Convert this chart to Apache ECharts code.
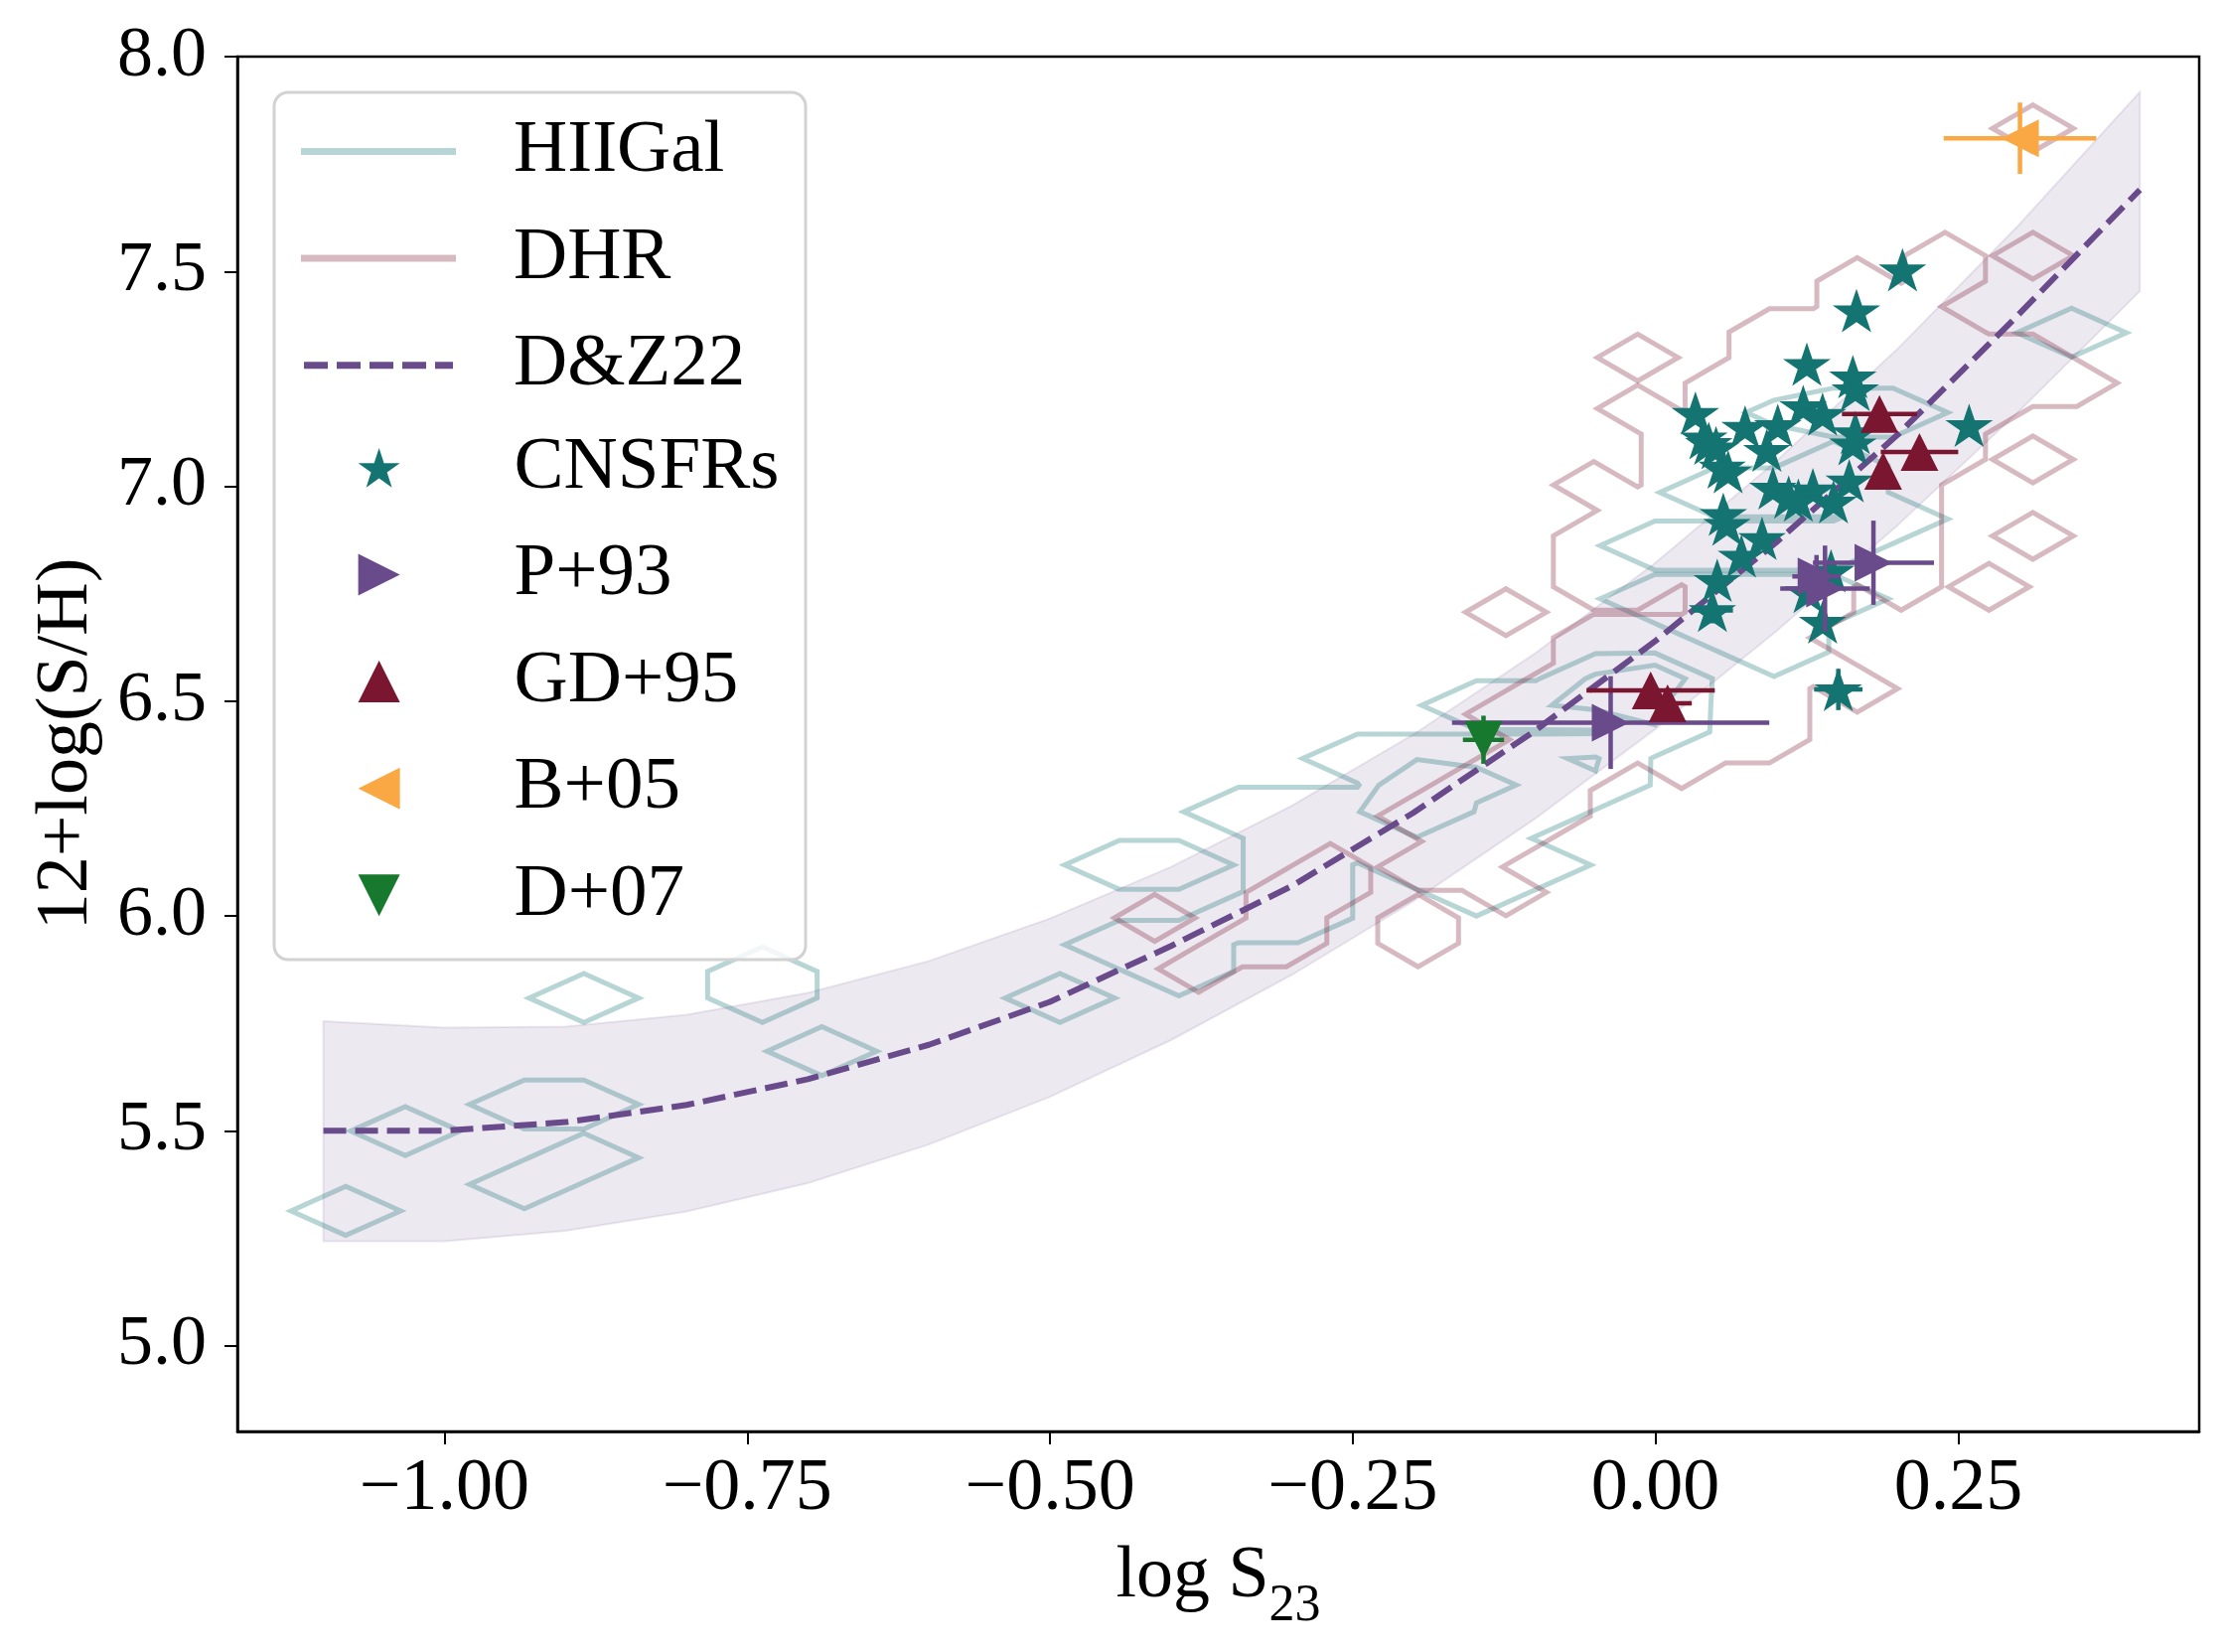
<!DOCTYPE html>
<html lang="en">
<head>
<meta charset="UTF-8">
<title>12+log(S/H) vs log S23</title>
<script src="https://cdn.jsdelivr.net/npm/echarts@6.0.0/dist/echarts.min.js"></script>
<style>html,body{margin:0;padding:0;background:#fff;}</style>
</head>
<body>
<div id="chart" style="width:2244px;height:1663px;"></div>
<script>
// D&Z22 calibration and its uncertainty band
var fitX   = [-1.1, -1.0, -0.9, -0.8, -0.7, -0.6, -0.5, -0.4, -0.3, -0.2, -0.1, 0.0, 0.1, 0.2, 0.3, 0.4];
var fitY   = [5.50, 5.50, 5.52, 5.56, 5.62, 5.70, 5.80, 5.93, 6.07, 6.24, 6.43, 6.64, 6.87, 7.12, 7.40, 7.69];
var fitUp  = [5.755, 5.740, 5.742, 5.770, 5.821, 5.895, 5.994, 6.114, 6.257, 6.422, 6.610, 6.822, 7.059, 7.320, 7.608, 7.918];
var fitLow = [5.243, 5.243, 5.267, 5.312, 5.378, 5.468, 5.579, 5.711, 5.863, 6.034, 6.225, 6.435, 6.663, 6.909, 7.174, 7.454];

// CNSFRs
var cnsfrX = [0.204, 0.166, 0.125, 0.163, 0.165, 0.033, 0.259, 0.122, 0.138, 0.074, 0.101, 0.040, 0.050, 0.165, 0.163, 0.092, 0.060, 0.097,
              0.130, 0.118, 0.147, 0.160, 0.056, 0.059, 0.088, 0.071, 0.051, 0.047, 0.145, 0.126, 0.138, 0.151, 0.044, 0.110, 0.055];
var cnsfrY = [7.504, 7.409, 7.284, 7.255, 7.225, 7.170, 7.142, 7.186, 7.168, 7.138, 7.142, 7.113, 7.090, 7.125, 7.099, 7.084, 7.034, 6.996,
              6.992, 6.968, 6.964, 7.013, 6.935, 6.912, 6.879, 6.838, 6.781, 6.711, 6.803, 6.755, 6.684, 6.527, 7.100, 6.975, 7.045];
var cnsfrXerr = [0, 0, 0, 0, 0, 0, 0, 0, 0, 0, 0, 0, 0, 0, 0, 0, 0, 0, 0, 0, 0, 0, 0, 0, 0, 0, 0, 0.017, 0, 0, 0, 0.020, 0, 0, 0];
var cnsfrYerr = [0, 0, 0, 0, 0, 0, 0, 0, 0, 0, 0, 0, 0, 0, 0, 0, 0, 0, 0, 0, 0, 0, 0, 0, 0, 0, 0, 0.030, 0, 0, 0, 0.048, 0, 0, 0];

// P+93
var p93X = [0.180, 0.133, 0.140, -0.037];
var p93Y = [6.822, 6.790, 6.762, 6.450];
var p93Xerr = [0.050, 0.020, 0.037, 0.131];
var p93Yerr = [0.098, 0.050, 0.100, 0.108];

// GD+95
var gd95X = [0.185, 0.218, 0.188, -0.004, 0.010];
var gd95Y = [7.168, 7.080, 7.036, 6.525, 6.495];
var gd95Xerr = [0.031, 0.032, 0, 0.053, 0.020];
var gd95Yerr = [0, 0, 0, 0.030, 0.020];

// B+05
var b05X = [0.301], b05Y = [7.810], b05Xerr = [0.063], b05Yerr = [0.083];

// D+07
var d07X = [-0.142], d07Y = [6.410], d07Xerr = [0.017], d07Yerr = [0.056];

// HIIGal 2D histogram: bin centres x0 + i*dx, y0 + j*dy ; runs are [row j, first i, last i, count]
var hiiX0 = -0.4918, hiiDX = 0.04914, hiiY0 = 5.8089, hiiDY = 0.06194;
var hiiRuns = [
  [-8, -12, -12, 1], [-7, -9, -9, 1], [-6, -8, -8, 1], [-5, -11, -11, 1], [-4, -9, -8, 1], [-2, -4, -4, 1],
  [0, -8, -8, 1], [0, -5, -5, 1], [0, 0, 0, 1],
  [1, -5, -5, 1], [1, 2, 2, 1],
  [2, 1, 2, 1],
  [3, 3, 4, 1],
  [4, 4, 4, 1], [4, 7, 7, 1],
  [5, 1, 2, 1], [5, 4, 4, 1], [5, 6, 8, 1],
  [6, 4, 7, 1],
  [7, 3, 5, 1], [7, 6, 6, 3], [7, 7, 8, 1],
  [8, 6, 6, 3], [8, 7, 7, 1.24], [8, 8, 9, 1],
  [9, 5, 8, 1], [9, 9, 9, 1.15],
  [10, 10, 10, 1],
  [11, 7, 8, 1], [11, 9, 10, 1.3],
  [12, 9, 9, 1.3], [12, 10, 10, 2.2],
  [13, 12, 12, 1], [14, 11, 12, 1], [15, 10, 13, 1],
  [17, 10, 13, 1], [18, 14, 14, 1], [19, 11, 13, 1], [20, 13, 13, 1],
  [22, 12, 12, 0.15], [22, 13, 14, 1],
  [25, 17, 17, 1]
];
var hiiLevels = [0.08, 1.08];

// DHR 2D histogram
var dhrX0 = -0.41354, dhrDX = 0.03626, dhrY0 = 5.9954, dhrDY = 0.05928;
var dhrRuns = [
  [-2, 1, 1, 1],
  [-1, 2, 3, 1], [-1, 6, 6, 1],
  [0, 0, 0, 1], [0, 3, 3, 1], [0, 6, 6, 1],
  [1, 3, 4, 1], [1, 8, 8, 1],
  [2, 4, 4, 1], [2, 6, 7, 1],
  [3, 7, 8, 1],
  [4, 6, 9, 1],
  [5, 7, 9, 1],
  [6, 8, 10, 1], [6, 12, 12, 1],
  [7, 9, 14, 1],
  [8, 8, 14, 1],
  [9, 9, 14, 1], [9, 16, 16, 1],
  [10, 10, 15, 1],
  [11, 10, 14, 1],
  [12, 8, 8, 1], [12, 13, 15, 1],
  [13, 10, 11, 1], [13, 13, 15, 1], [13, 17, 17, 1], [13, 19, 19, 1],
  [14, 10, 17, 1],
  [15, 10, 17, 1], [15, 20, 20, 1],
  [16, 11, 17, 1],
  [17, 10, 10, 1], [17, 12, 17, 1],
  [18, 12, 18, 1], [18, 20, 20, 1],
  [19, 12, 18, 1],
  [20, 11, 11, 1], [20, 13, 19, 1],
  [21, 13, 21, 1],
  [22, 11, 11, 1], [22, 14, 20, 1],
  [23, 14, 18, 1],
  [24, 16, 17, 1],
  [25, 16, 16, 1], [25, 18, 18, 1],
  [26, 18, 18, 1], [26, 20, 20, 1],
  [31, 20, 20, 1]
];
var dhrLevels = [0.08];

var xTicks = [-1.0, -0.75, -0.5, -0.25, 0.0, 0.25];
var yTicks = [5.0, 5.5, 6.0, 6.5, 7.0, 7.5, 8.0];

var FONT = "'Liberation Serif', 'DejaVu Serif', serif";
var HII_COLOR = 'rgba(19,115,115,0.3)';
var DHR_COLOR = 'rgba(122,26,51,0.3)';
var PURPLE = '#694a8a';

function expandRuns(runs) {
  var cells = [];
  runs.forEach(function (r) {
    for (var c = r[1]; c <= r[2]; c++) cells.push([c, r[0], r[3]]);
  });
  return cells;
}

// marching squares on the histogram, chained into closed loops (data coordinates)
function traceLoops(cells, x0, dx, y0, dy, levels) {
  var i0 = Infinity, i1 = -Infinity, j0 = Infinity, j1 = -Infinity;
  cells.forEach(function (c) {
    i0 = Math.min(i0, c[0]); i1 = Math.max(i1, c[0]);
    j0 = Math.min(j0, c[1]); j1 = Math.max(j1, c[1]);
  });
  i0 -= 1; j0 -= 1; i1 += 1; j1 += 1;
  var W = i1 - i0 + 1, H = j1 - j0 + 1;
  var g = new Float64Array(W * H);
  cells.forEach(function (c) { g[(c[1] - j0) * W + (c[0] - i0)] = c[2]; });
  function val(i, j) { return g[j * W + i]; }
  var loops = [];
  levels.forEach(function (L) {
    var pts = {}, segs = [], byKey = {};
    function cross(key, ia, ja, ib, jb) {
      if (!pts[key]) {
        var va = val(ia, ja), vb = val(ib, jb), t = (L - va) / (vb - va);
        pts[key] = [x0 + dx * (i0 + ia + (ib - ia) * t), y0 + dy * (j0 + ja + (jb - ja) * t)];
      }
      return key;
    }
    function seg(a, b) {
      var k = segs.length;
      segs.push([a, b]);
      (byKey[a] = byKey[a] || []).push(k);
      (byKey[b] = byKey[b] || []).push(k);
    }
    for (var j = 0; j < H - 1; j++) {
      for (var i = 0; i < W - 1; i++) {
        var a = val(i, j) > L, b = val(i + 1, j) > L, c = val(i + 1, j + 1) > L, d = val(i, j + 1) > L;
        var B = 'h' + i + ',' + j, R = 'v' + (i + 1) + ',' + j, T = 'h' + i + ',' + (j + 1), Lk = 'v' + i + ',' + j;
        var e = [];
        if (a !== b) e.push(cross(B, i, j, i + 1, j));
        if (b !== c) e.push(cross(R, i + 1, j, i + 1, j + 1));
        if (d !== c) e.push(cross(T, i, j + 1, i + 1, j + 1));
        if (a !== d) e.push(cross(Lk, i, j, i, j + 1));
        if (e.length === 2) {
          seg(e[0], e[1]);
        } else if (e.length === 4) {
          var mid = (val(i, j) + val(i + 1, j) + val(i + 1, j + 1) + val(i, j + 1)) / 4 > L;
          if (a === mid) { seg(B, R); seg(T, Lk); }
          else { seg(B, Lk); seg(R, T); }
        }
      }
    }
    var used = [];
    for (var s = 0; s < segs.length; s++) {
      if (used[s]) continue;
      used[s] = true;
      var start = segs[s][0], cur = segs[s][1], loop = [pts[start], pts[cur]];
      while (cur !== start) {
        var nxt = -1;
        byKey[cur].forEach(function (k) { if (!used[k]) nxt = k; });
        if (nxt < 0) break;
        used[nxt] = true;
        cur = segs[nxt][0] === cur ? segs[nxt][1] : segs[nxt][0];
        if (cur !== start) loop.push(pts[cur]);
      }
      loops.push(loop);
    }
  });
  return loops;
}

function contourSeries(name, loops, color) {
  return {
    name: name,
    type: 'custom',
    coordinateSystem: 'cartesian2d',
    data: loops.map(function (lp) { return lp[0]; }),
    encode: { x: 0, y: 1 },
    clip: true,
    silent: true,
    z: 2,
    itemStyle: { color: color },
    renderItem: function (params, api) {
      var lp = loops[params.dataIndex];
      return {
        type: 'polygon',
        shape: { points: lp.map(function (p) { return api.coord(p); }) },
        style: { fill: 'none', stroke: color, lineWidth: 5, lineJoin: 'miter' }
      };
    }
  };
}

function errorBars(xs, ys, xe, ye, color, z) {
  return {
    type: 'custom',
    coordinateSystem: 'cartesian2d',
    silent: true,
    z: z,
    data: xs.map(function (x, i) { return [x, ys[i], xe[i], ye[i]]; }),
    encode: { x: 0, y: 1 },
    renderItem: function (params, api) {
      var x = api.value(0), y = api.value(1), ex = api.value(2), ey = api.value(3);
      var kids = [];
      if (ex > 0) {
        var a = api.coord([x - ex, y]), b = api.coord([x + ex, y]);
        kids.push({ type: 'line', shape: { x1: a[0], y1: a[1], x2: b[0], y2: b[1] }, style: { stroke: color, lineWidth: 4.5 } });
      }
      if (ey > 0) {
        var c = api.coord([x, y - ey]), d = api.coord([x, y + ey]);
        kids.push({ type: 'line', shape: { x1: c[0], y1: c[1], x2: d[0], y2: d[1] }, style: { stroke: color, lineWidth: 4.5 } });
      }
      return { type: 'group', children: kids };
    }
  };
}

function pairs(xs, ys) { return xs.map(function (x, i) { return [x, ys[i]]; }); }

var starPath = 'path://' + (function () {
  var d = '';
  for (var k = 0; k < 10; k++) {
    var r = k % 2 ? 0.382 : 1, a = Math.PI / 2 + k * Math.PI / 5;
    d += (k ? 'L' : 'M') + (r * Math.cos(a)).toFixed(4) + ',' + (-r * Math.sin(a)).toFixed(4);
  }
  return d + 'Z';
})();
var triUp = 'path://M0,-1L1,1L-1,1Z';
var triRight = 'path://M-1,-1L1,0L-1,1Z';
var triLeft = 'path://M1,-1L-1,0L1,1Z';
var triDown = 'path://M-1,-1L1,-1L0,1Z';
// legend handle for the dashed calibration line
var dashIcon = 'path://M0,0h24v7h-24zM33,0h24v7h-24zM66,0h24v7h-24zM99,0h24v7h-24zM132,0h18v7h-18z';

var hiiLoops = traceLoops(expandRuns(hiiRuns), hiiX0, hiiDX, hiiY0, hiiDY, hiiLevels);
var dhrLoops = traceLoops(expandRuns(dhrRuns), dhrX0, dhrDX, dhrY0, dhrDY, dhrLevels);

var chart = echarts.init(document.getElementById('chart'));

var option = {
  backgroundColor: '#ffffff',
  animation: false,
  textStyle: { fontFamily: FONT },
  grid: { left: 239, top: 57, width: 1975, height: 1384, show: true, borderColor: '#000', borderWidth: 2.5 },
  xAxis: {
    type: 'value',
    min: -1.171,
    max: 0.449,
    name: '{base|log S}{sub|23}',
    nameLocation: 'middle',
    nameGap: 110,
    nameTextStyle: {
      color: '#000',
      rich: {
        base: { fontFamily: FONT, fontSize: 74, verticalAlign: 'top', color: '#000' },
        sub: { fontFamily: FONT, fontSize: 52, padding: [40, 0, 0, 0], verticalAlign: 'top', color: '#000' }
      }
    },
    axisLine: { show: true, onZero: false, lineStyle: { color: '#000', width: 2.5 } },
    axisTick: { show: true, length: 13, lineStyle: { color: '#000', width: 2 }, customValues: xTicks },
    axisLabel: {
      customValues: xTicks,
      margin: 22,
      color: '#000',
      fontFamily: FONT,
      fontSize: 74,
      formatter: function (v) { return (v < 0 ? '\u2212' : '') + Math.abs(v).toFixed(2); }
    },
    splitLine: { show: false }
  },
  yAxis: {
    type: 'value',
    min: 4.8,
    max: 8.0,
    name: '12+log(S/H)',
    nameLocation: 'middle',
    nameGap: 134,
    nameTextStyle: { color: '#000', fontFamily: FONT, fontSize: 74 },
    axisLine: { show: true, onZero: false, lineStyle: { color: '#000', width: 2.5 } },
    axisTick: { show: true, length: 13, lineStyle: { color: '#000', width: 2 }, customValues: yTicks },
    axisLabel: {
      customValues: yTicks,
      margin: 31,
      color: '#000',
      fontFamily: FONT,
      fontSize: 72,
      formatter: function (v) { return v.toFixed(1); }
    },
    splitLine: { show: false }
  },
  graphic: [{
    type: 'rect',
    z: 15,
    shape: { x: 276, y: 93, width: 535, height: 873, r: 14 },
    style: { fill: 'rgba(255,255,255,0.8)', stroke: '#d2d2d2', lineWidth: 3 }
  }],
  legend: [{
    z: 20,
    orient: 'vertical',
    left: 303,
    top: 115,
    padding: 0,
    itemWidth: 156,
    itemHeight: 7,
    itemGap: 32.6,
    selectedMode: false,
    textStyle: { fontFamily: FONT, fontSize: 75, lineHeight: 74, color: '#000', padding: [0, 0, 0, 53] },
    data: [
      { name: 'HIIGal', icon: 'rect', itemStyle: { color: HII_COLOR } },
      { name: 'DHR', icon: 'rect', itemStyle: { color: DHR_COLOR } },
      { name: 'D&Z22', icon: dashIcon, itemStyle: { color: PURPLE } }
    ]
  }, {
    z: 20,
    orient: 'vertical',
    left: 360.6,
    top: 433.4,
    padding: 0,
    itemWidth: 42,
    itemHeight: 42,
    itemGap: 32.6,
    selectedMode: false,
    textStyle: { fontFamily: FONT, fontSize: 75, lineHeight: 74, color: '#000', padding: [0, 0, 0, 110] },
    data: ['CNSFRs', 'P+93', 'GD+95', 'B+05', 'D+07']
  }],
  series: [
    // shaded band of the calibration
    {
      type: 'custom',
      coordinateSystem: 'cartesian2d',
      silent: true,
      z: 1,
      clip: true,
      data: [[fitX[0], fitY[0]]],
      encode: { x: 0, y: 1 },
      renderItem: function (params, api) {
        var pts = [];
        for (var i = 0; i < fitX.length; i++) pts.push(api.coord([fitX[i], fitUp[i]]));
        for (var k = fitX.length - 1; k >= 0; k--) pts.push(api.coord([fitX[k], fitLow[k]]));
        return {
          type: 'polygon',
          shape: { points: pts },
          style: { fill: 'rgba(106,76,138,0.12)', stroke: 'rgba(106,76,138,0.13)', lineWidth: 2 }
        };
      }
    },
    contourSeries('HIIGal', hiiLoops, HII_COLOR),
    contourSeries('DHR', dhrLoops, DHR_COLOR),
    {
      name: 'D&Z22', type: 'line', z: 3, symbol: 'none', smooth: false,
      data: pairs(fitX, fitY),
      itemStyle: { color: PURPLE },
      lineStyle: { color: PURPLE, width: 6, type: [23, 9] }
    },
    errorBars(cnsfrX, cnsfrY, cnsfrXerr, cnsfrYerr, '#137471', 4),
    {
      name: 'CNSFRs', type: 'scatter', z: 5, symbol: starPath, symbolSize: [48, 46], symbolKeepAspect: true,
      itemStyle: { color: '#137471', opacity: 1 },
      data: pairs(cnsfrX, cnsfrY)
    },
    errorBars(p93X, p93Y, p93Xerr, p93Yerr, PURPLE, 6),
    {
      name: 'P+93', type: 'scatter', z: 6, symbol: triRight, symbolSize: 38,
      itemStyle: { color: PURPLE, opacity: 1 },
      data: pairs(p93X, p93Y)
    },
    errorBars(gd95X, gd95Y, gd95Xerr, gd95Yerr, '#7a1630', 7),
    {
      name: 'GD+95', type: 'scatter', z: 7, symbol: triUp, symbolSize: 38,
      itemStyle: { color: '#7a1630', opacity: 1 },
      data: pairs(gd95X, gd95Y)
    },
    errorBars(b05X, b05Y, b05Xerr, b05Yerr, '#f9a843', 8),
    {
      name: 'B+05', type: 'scatter', z: 8, symbol: triLeft, symbolSize: 38,
      itemStyle: { color: '#f9a843', opacity: 1 },
      data: pairs(b05X, b05Y)
    },
    errorBars(d07X, d07Y, d07Xerr, d07Yerr, '#17792d', 9),
    {
      name: 'D+07', type: 'scatter', z: 9, symbol: triDown, symbolSize: 38,
      itemStyle: { color: '#17792d', opacity: 1 },
      data: pairs(d07X, d07Y)
    }
  ]
};

chart.setOption(option);
</script>
</body>
</html>
